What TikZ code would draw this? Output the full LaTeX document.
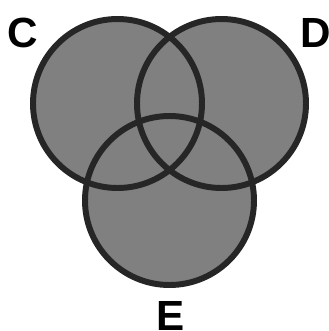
\documentclass[tikz,border=0pt]{standalone}
\usepackage{fontspec}
\setmainfont{Liberation Sans}
\usepackage{xcolor}
\usetikzlibrary{positioning}
\definecolor{setfill}{HTML}{808080}
\definecolor{setline}{HTML}{262626}
\tikzset{
  setlabel/.style={inner sep=0pt,anchor=base,font=\fontsize{36}{36}\selectfont\bfseries},
  setedge/.style={setline,line width=5.1pt}
}
\begin{document}
\begin{tikzpicture}[x=0.03cm,y=-0.03cm]
\useasboundingbox (0,0) rectangle (328,331);
% centres of the three sets
\coordinate (cC) at (117.5,103.5);
\coordinate (cD) at (221.5,103.5);
\coordinate (cE) at (169.5,200.5);
% fills first, outlines on top
\foreach \c in {cC,cD,cE}
  \fill[setfill] (\c) circle (84.5);
\foreach \c in {cC,cD,cE}
  \draw[setedge] (\c) circle (84.5);
% set names
\node[setlabel] (labC) at (23,47) {C};
\node[setlabel] (labD) at (316,47) {D};
\node[setlabel] (labE) at (171,330) {E};
\end{tikzpicture}
\end{document}
